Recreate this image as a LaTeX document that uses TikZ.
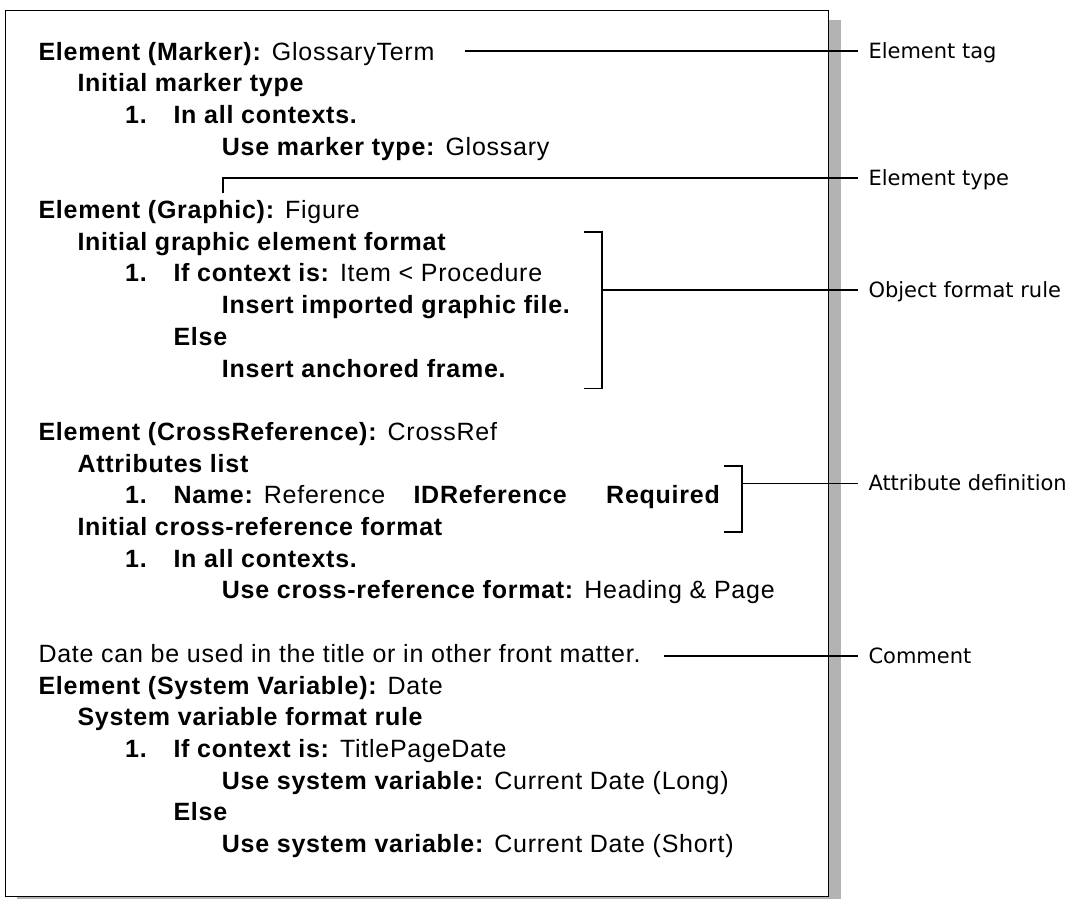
\documentclass[tikz,border=0pt]{standalone}
\usepackage{fontspec}
\setmainfont{Liberation Sans}[LetterSpace=3]
\newfontfamily\calloutfont{DejaVu Sans}
\usepackage{xcolor}
\usetikzlibrary{calc,shadows}
\definecolor{shadowGray}{HTML}{B3B3B3}
\newcommand{\itemno}[1]{\makebox[48.3pt][l]{\textbf{#1}}}

\begin{document}
\begin{tikzpicture}[x=1pt, y=-1pt]
    \fontsize{25}{30}\selectfont
    \useasboundingbox (0,0) rectangle (1079,898);

    % Shapes
    \tikzstyle{sheet}=[rectangle, draw, line width=1pt, fill=white, minimum width=823.7pt, minimum height=886.5pt, general shadow={fill=shadowGray, shadow xshift=12.3pt, shadow yshift=-10pt}]
    \tikzstyle{txt}=[anchor=base west, inner sep=0pt]
    \tikzstyle{note}=[anchor=west, inner xsep=10.6pt, inner ysep=0pt, text height=15.3pt, text depth=0pt, font=\calloutfont\fontsize{21}{25}\selectfont]
    \tikzstyle{leader}=[line width=1.6pt]

    % Page
    \node[sheet] (sheet) at (416.85,453.25) {};

    % Marker element
    \node[txt] (rowMarker) at (38.3,60) {\textbf{Element (Marker):} GlossaryTerm};
    \node[txt] (rowMarkerInit) at (77.3,60+31.7) {\textbf{Initial marker type}};
    \node[txt] (rowMarkerAll) at (125,60+31.7*2) {\itemno{1.}\textbf{In all contexts.}};
    \node[txt] (rowMarkerUse) at (221.7,60+31.7*3) {\textbf{Use marker type:} Glossary};

    % Graphic element
    \node[txt] (rowGraphic) at (38.3,60+31.7*5) {\textbf{Element (Graphic):} Figure};
    \node[txt] (rowGraphicInit) at (77.3,60+31.7*6) {\textbf{Initial graphic element format}};
    \node[txt] (rowGraphicIf) at (125,60+31.7*7) {\itemno{1.}\textbf{If context is:} Item < Procedure};
    \node[txt] (rowGraphicFile) at (221.7,60+31.7*8) {\textbf{Insert imported graphic file.}};
    \node[txt] (rowGraphicElse) at (173.3,60+31.7*9) {\textbf{Else}};
    \node[txt] (rowGraphicFrame) at (221.7,60+31.7*10) {\textbf{Insert anchored frame.}};

    % Cross-reference element
    \node[txt] (rowXref) at (38.3,60+31.7*12) {\textbf{Element (CrossReference):} CrossRef};
    \node[txt] (rowXrefAttr) at (77.3,60+31.7*13) {\textbf{Attributes list}};
    \node[txt] (rowXrefName) at (125,60+31.7*14) {\itemno{1.}\textbf{Name:} Reference};
    \node[txt] (rowXrefType) at (413.3,60+31.7*14) {\textbf{IDReference}};
    \node[txt] (rowXrefReq) at (606,60+31.7*14) {\textbf{Required}};
    \node[txt] (rowXrefInit) at (77.3,60+31.7*15) {\textbf{Initial cross-reference format}};
    \node[txt] (rowXrefAll) at (125,60+31.7*16) {\itemno{1.}\textbf{In all contexts.}};
    \node[txt] (rowXrefUse) at (221.7,60+31.7*17) {\textbf{Use cross-reference format:} Heading \& Page};

    % System variable element
    \node[txt] (rowComment) at (38.3,60+31.7*19) {Date can be used in the title or in other front matter.};
    \node[txt] (rowSysvar) at (38.3,60+31.7*20) {\textbf{Element (System Variable):} Date};
    \node[txt] (rowSysvarRule) at (77.3,60+31.7*21) {\textbf{System variable format rule}};
    \node[txt] (rowSysvarIf) at (125,60+31.7*22) {\itemno{1.}\textbf{If context is:} TitlePageDate};
    \node[txt] (rowSysvarLong) at (221.7,60+31.7*23) {\textbf{Use system variable:} Current Date (Long)};
    \node[txt] (rowSysvarElse) at (173.3,60+31.7*24) {\textbf{Else}};
    \node[txt] (rowSysvarShort) at (221.7,60+31.7*25) {\textbf{Use system variable:} Current Date (Short)};

    % Labels
    \node[note] (lblTag) at (857.7,50.7) {Element tag};
    \node[note] (lblType) at (857.7,177.7) {Element type};
    \node[note] (lblRule) at (857.7,290) {Object format rule};
    \node[note] (lblAttr) at (857.7,483.3) {Attribute definition};
    \node[note] (lblComment) at (857.7,656) {Comment};

    % Leaders
    \draw[leader] ($(lblTag.west -| rowMarker.east)+(30,0)$) -- (lblTag.west);

    \coordinate (typeFoot) at (222.7,192.7);
    \draw[leader] (typeFoot) |- (lblType.west);

    \coordinate (ruleTop) at (584.3,231.7);
    \coordinate (ruleCorner) at (601.7,231.7);
    \coordinate (ruleBottom) at (584.3,388.3);
    \draw[leader] (ruleTop) -- (ruleCorner) |- (ruleBottom);
    \draw[leader] (ruleCorner |- lblRule.west) -- (lblRule.west);

    \coordinate (attrTop) at (724.3,465.7);
    \coordinate (attrCorner) at (741.7,465.7);
    \coordinate (attrBottom) at (724.3,531.7);
    \draw[leader] (attrTop) -- (attrCorner) |- (attrBottom);
    \draw[leader] (attrCorner |- lblAttr.west) -- (lblAttr.west);

    \draw[leader] ($(lblComment.west -| rowComment.east)+(23,0)$) -- (lblComment.west);
\end{tikzpicture}
\end{document}
